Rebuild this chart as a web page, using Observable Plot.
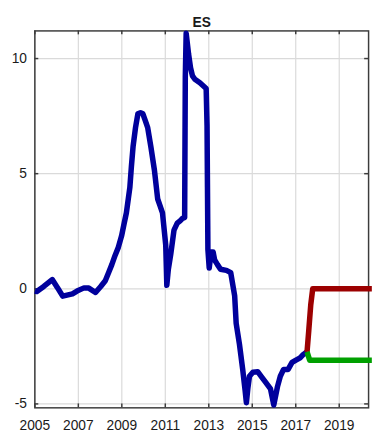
<!DOCTYPE html>
<html>
<head>
<meta charset="utf-8">
<script src="https://cdn.jsdelivr.net/npm/d3@7"></script>
<script src="https://cdn.jsdelivr.net/npm/@observablehq/plot@0.6"></script>
<style>
  html, body { margin: 0; padding: 0; overflow: hidden; background: #fff; }
</style>
</head>
<body>
<div id="chart"></div>
<script>
// Series "ES": observed history, then two scenario paths from the last observation.
const title = "ES";

const historyYears = [
  2005.00, 2005.09, 2005.41, 2005.80, 2006.04, 2006.28, 2006.73, 2006.94, 2007.26, 2007.48,
  2007.79, 2008.03, 2008.24, 2008.39, 2008.54, 2008.69, 2008.84, 2008.99, 2009.11, 2009.21,
  2009.37, 2009.44, 2009.52, 2009.63, 2009.74, 2009.86, 2009.97, 2010.08, 2010.19, 2010.34,
  2010.50, 2010.65, 2010.76, 2010.87, 2011.02, 2011.07, 2011.14, 2011.25, 2011.40, 2011.55,
  2011.68, 2011.78, 2011.89, 2011.92, 2011.96, 2012.07, 2012.16, 2012.25, 2012.36, 2012.59,
  2012.88, 2012.92, 2012.94, 2012.96, 2013.02, 2013.11, 2013.20, 2013.27, 2013.40, 2013.54,
  2013.81, 2014.01, 2014.10, 2014.19, 2014.26, 2014.41, 2014.56, 2014.67, 2014.73, 2014.80,
  2014.87, 2015.03, 2015.25, 2015.41, 2015.61, 2015.84, 2015.99, 2016.16, 2016.29, 2016.44,
  2016.65, 2016.83, 2017.01, 2017.20, 2017.35, 2017.52
];
const historyValues = [
  -0.10, -0.12, 0.10, 0.40, 0.05, -0.32, -0.22, -0.10, 0.04, 0.03,
  -0.16, 0.10, 0.35, 0.70, 1.05, 1.45, 1.80, 2.30, 2.85, 3.30,
  4.40, 5.30, 6.20, 7.00, 7.60, 7.65, 7.60, 7.30, 7.00, 6.15,
  5.15, 3.90, 3.60, 3.30, 1.90, 0.15, 0.85, 1.50, 2.55, 2.85,
  2.95, 3.05, 3.10, 9.20, 11.10, 10.20, 9.60, 9.25, 9.10, 8.95,
  8.70, 7.10, 4.40, 1.70, 0.90, 1.60, 1.60, 1.25, 1.05, 0.85,
  0.80, 0.70, 0.20, -0.30, -1.50, -2.40, -3.50, -4.40, -4.95, -4.30,
  -3.80, -3.62, -3.60, -3.80, -4.05, -4.35, -5.05, -4.25, -3.80, -3.50,
  -3.50, -3.20, -3.10, -3.00, -2.85, -2.74
];

// Upper scenario: climbs back to zero and stays there.
const upperYears  = [2017.52, 2017.60, 2017.69, 2017.78, 2020.50];
const upperValues = [-2.74, -1.80, -0.70, 0.00, 0.00];

// Lower scenario: settles a little lower and stays flat.
const lowerYears  = [2017.52, 2017.64, 2020.50];
const lowerValues = [-2.74, -3.10, -3.10];

const xTicks = [2005, 2007, 2009, 2011, 2013, 2015, 2017, 2019];
const yTicks = [-5, 0, 5, 10];
const xDomain = [2005, 2020.35];
const yDomain = [-5.17, 11.2];

const colors = { history: "#00009c", upper: "#9c0000", lower: "#00a000" };

const W = 380, H = 442;
const margin = { left: 35, right: 5, top: 31, bottom: 27 };
const innerW = W - margin.left - margin.right;
const innerH = H - margin.top - margin.bottom;
const tickLen = 4;
const axisInk = "#3c3c3c";

const rows = (xs, ys) => xs.map((x, i) => ({ x, y: ys[i] }));
const lineStyle = { x: "x", y: "y", strokeWidth: 5.6, strokeLinejoin: "round", strokeLinecap: "butt" };

const chart = Plot.plot({
  width: W,
  height: H,
  marginLeft: margin.left,
  marginRight: margin.right,
  marginTop: margin.top,
  marginBottom: margin.bottom,
  x: { domain: xDomain },
  y: { domain: yDomain },
  style: {
    fontFamily: "'Liberation Sans', Arial, sans-serif",
    fontSize: "14px",
    color: "#1a1a1a",
    background: "#fff",
    overflow: "visible"
  },
  marks: [
    Plot.gridX(xTicks, { stroke: "#dadada", strokeOpacity: 1, strokeWidth: 1.2 }),
    Plot.gridY(yTicks, { stroke: "#dadada", strokeOpacity: 1, strokeWidth: 1.2 }),
    Plot.frame({ stroke: axisInk, strokeWidth: 1.5 }),
    // inward ticks on all four sides
    Plot.tickX(xTicks, { x: d => d, insetTop: innerH - tickLen, stroke: axisInk, strokeWidth: 1.5 }),
    Plot.tickX(xTicks, { x: d => d, insetBottom: innerH - tickLen, stroke: axisInk, strokeWidth: 1.5 }),
    Plot.tickY(yTicks, { y: d => d, insetRight: innerW - tickLen, stroke: axisInk, strokeWidth: 1.5 }),
    Plot.tickY(yTicks, { y: d => d, insetLeft: innerW - tickLen, stroke: axisInk, strokeWidth: 1.5 }),
    Plot.axisX(xTicks, { tickSize: 0, tickPadding: 13, tickFormat: d => String(d), label: null }),
    Plot.axisY(yTicks, { tickSize: 0, tickPadding: 8, tickFormat: d => String(d), label: null }),
    Plot.line(rows(historyYears, historyValues), { ...lineStyle, stroke: colors.history }),
    Plot.line(rows(upperYears, upperValues), { ...lineStyle, stroke: colors.upper }),
    Plot.line(rows(lowerYears, lowerValues), { ...lineStyle, stroke: colors.lower }),
    Plot.text([title], { text: d => d, frameAnchor: "top", dy: -14, fontWeight: "bold", fontSize: 14, fill: "#1a1a1a" })
  ]
});

document.getElementById("chart").appendChild(chart);
</script>
</body>
</html>
